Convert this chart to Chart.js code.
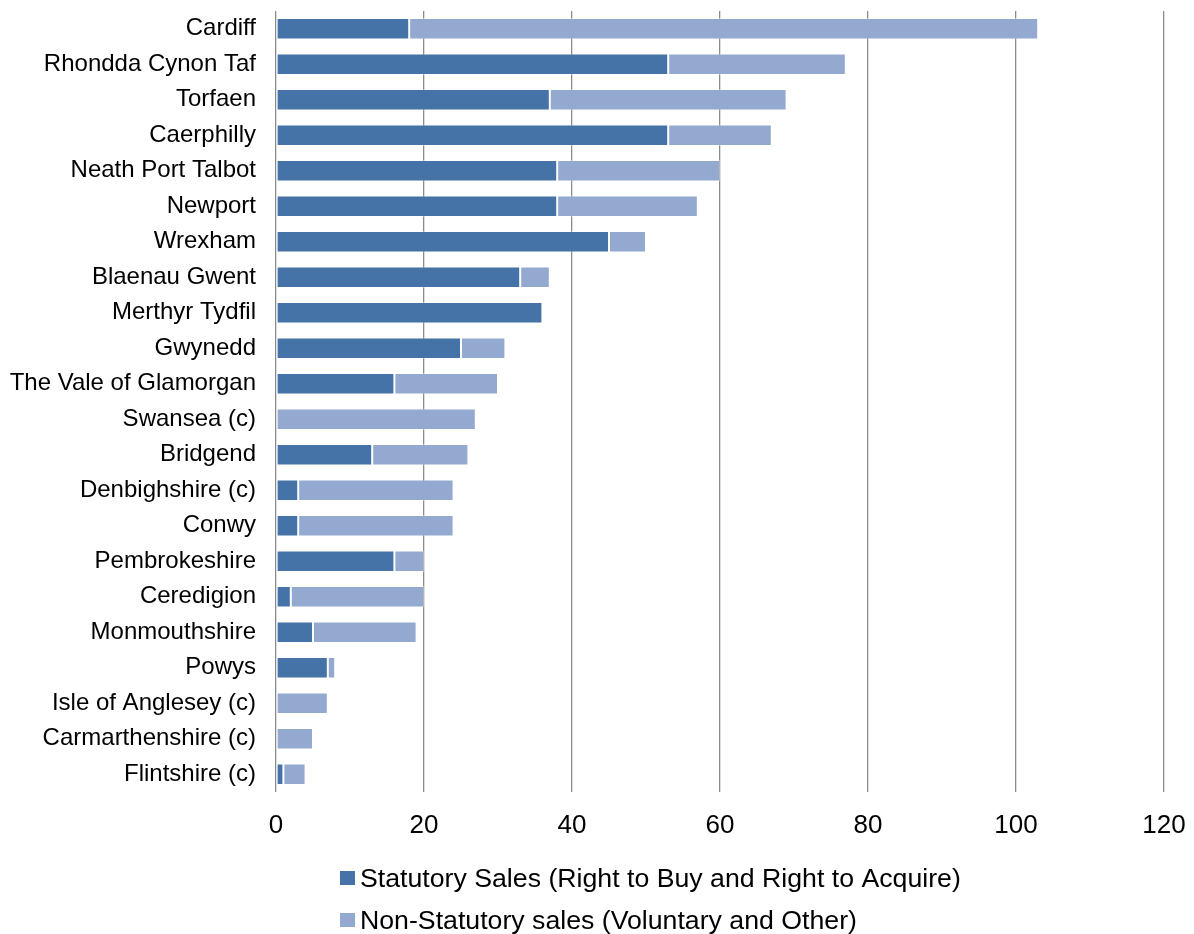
<!DOCTYPE html>
<html>
<head>
<meta charset="utf-8">
<script src="https://cdn.jsdelivr.net/npm/chart.js@4.4.1/dist/chart.umd.min.js"></script>
<style>
  html, body { margin: 0; padding: 0; background: #fff; }
  #wrap { width: 1194px; height: 934px; }
</style>
</head>
<body>
<div id="wrap"><canvas id="c" width="1194" height="934"></canvas></div>
<script>
const categories = [
  "Cardiff", "Rhondda Cynon Taf", "Torfaen", "Caerphilly", "Neath Port Talbot",
  "Newport", "Wrexham", "Blaenau Gwent", "Merthyr Tydfil", "Gwynedd",
  "The Vale of Glamorgan", "Swansea (c)", "Bridgend", "Denbighshire (c)", "Conwy",
  "Pembrokeshire", "Ceredigion", "Monmouthshire", "Powys", "Isle of Anglesey (c)",
  "Carmarthenshire (c)", "Flintshire (c)"
];
const statutorySales = [18, 53, 37, 53, 38, 38, 45, 33, 36, 25, 16, 0, 13, 3, 3, 16, 2, 5, 7, 0, 0, 1];
const nonStatutorySales = [85, 24, 32, 14, 22, 19, 5, 4, 0, 6, 14, 27, 13, 21, 21, 4, 18, 14, 1, 7, 5, 3];
const seriesLabels = [
  "Statutory Sales (Right to Buy and Right to Acquire)",
  "Non-Statutory sales (Voluntary and Other)"
];
const xTicks = [0, 20, 40, 60, 80, 100, 120];

const FONT = "'Liberation Sans', Arial, sans-serif";

const legendPlugin = {
  id: 'customLegend',
  afterDraw(chart) {
    const ctx = chart.ctx;
    const base = chart.chartArea.bottom;
    const rows = [base + 95, base + 137];
    ctx.save();
    ctx.font = "26.7px " + FONT;
    ctx.textBaseline = 'alphabetic';
    ctx.textAlign = 'left';
    chart.data.datasets.forEach((ds, i) => {
      const y = rows[i];
      ctx.fillStyle = ds.backgroundColor;
      ctx.fillRect(340, y - 16, 15, 14);
      ctx.fillStyle = '#000';
      ctx.fillText(ds.label, 360, y);
    });
    ctx.restore();
  }
};

new Chart(document.getElementById('c'), {
  type: 'bar',
  data: {
    labels: categories,
    datasets: [
      {
        label: seriesLabels[0],
        data: statutorySales,
        backgroundColor: '#4573a7',
        borderColor: 'rgba(255,255,255,0.35)',
        borderWidth: 1,
        borderSkipped: false,
        barPercentage: 0.6,
        categoryPercentage: 1.0
      },
      {
        label: seriesLabels[1],
        data: nonStatutorySales,
        backgroundColor: '#94a9d0',
        borderColor: 'rgba(255,255,255,0.35)',
        borderWidth: 1,
        borderSkipped: false,
        barPercentage: 0.6,
        categoryPercentage: 1.0
      }
    ]
  },
  options: {
    indexAxis: 'y',
    responsive: false,
    animation: false,
    devicePixelRatio: 1,
    layout: { padding: { top: 11, right: 30, bottom: 0, left: 0 } },
    plugins: {
      legend: { display: false },
      tooltip: { enabled: false }
    },
    scales: {
      x: {
        stacked: true,
        min: 0,
        max: 120,
        afterBuildTicks(scale) {
          scale.ticks = xTicks.map(v => ({ value: v }));
        },
        afterFit(scale) {
          scale.height = 142;
          scale.paddingLeft = 0;
          scale.paddingRight = 0;
        },
        grid: { color: '#8c8c8c', lineWidth: 1.3, drawTicks: false },
        border: { display: false },
        ticks: {
          font: { family: FONT, size: 26 },
          color: '#000',
          padding: 18,
          maxRotation: 0
        }
      },
      y: {
        stacked: true,
        afterFit(scale) {
          scale.width = 276;
          scale.paddingTop = 0;
          scale.paddingBottom = 0;
        },
        grid: { display: false, drawTicks: false },
        border: { display: false },
        ticks: {
          font: { family: FONT, size: 24 },
          color: '#000',
          padding: 20,
          autoSkip: false
        }
      }
    }
  },
  plugins: [legendPlugin]
});
</script>
</body>
</html>
